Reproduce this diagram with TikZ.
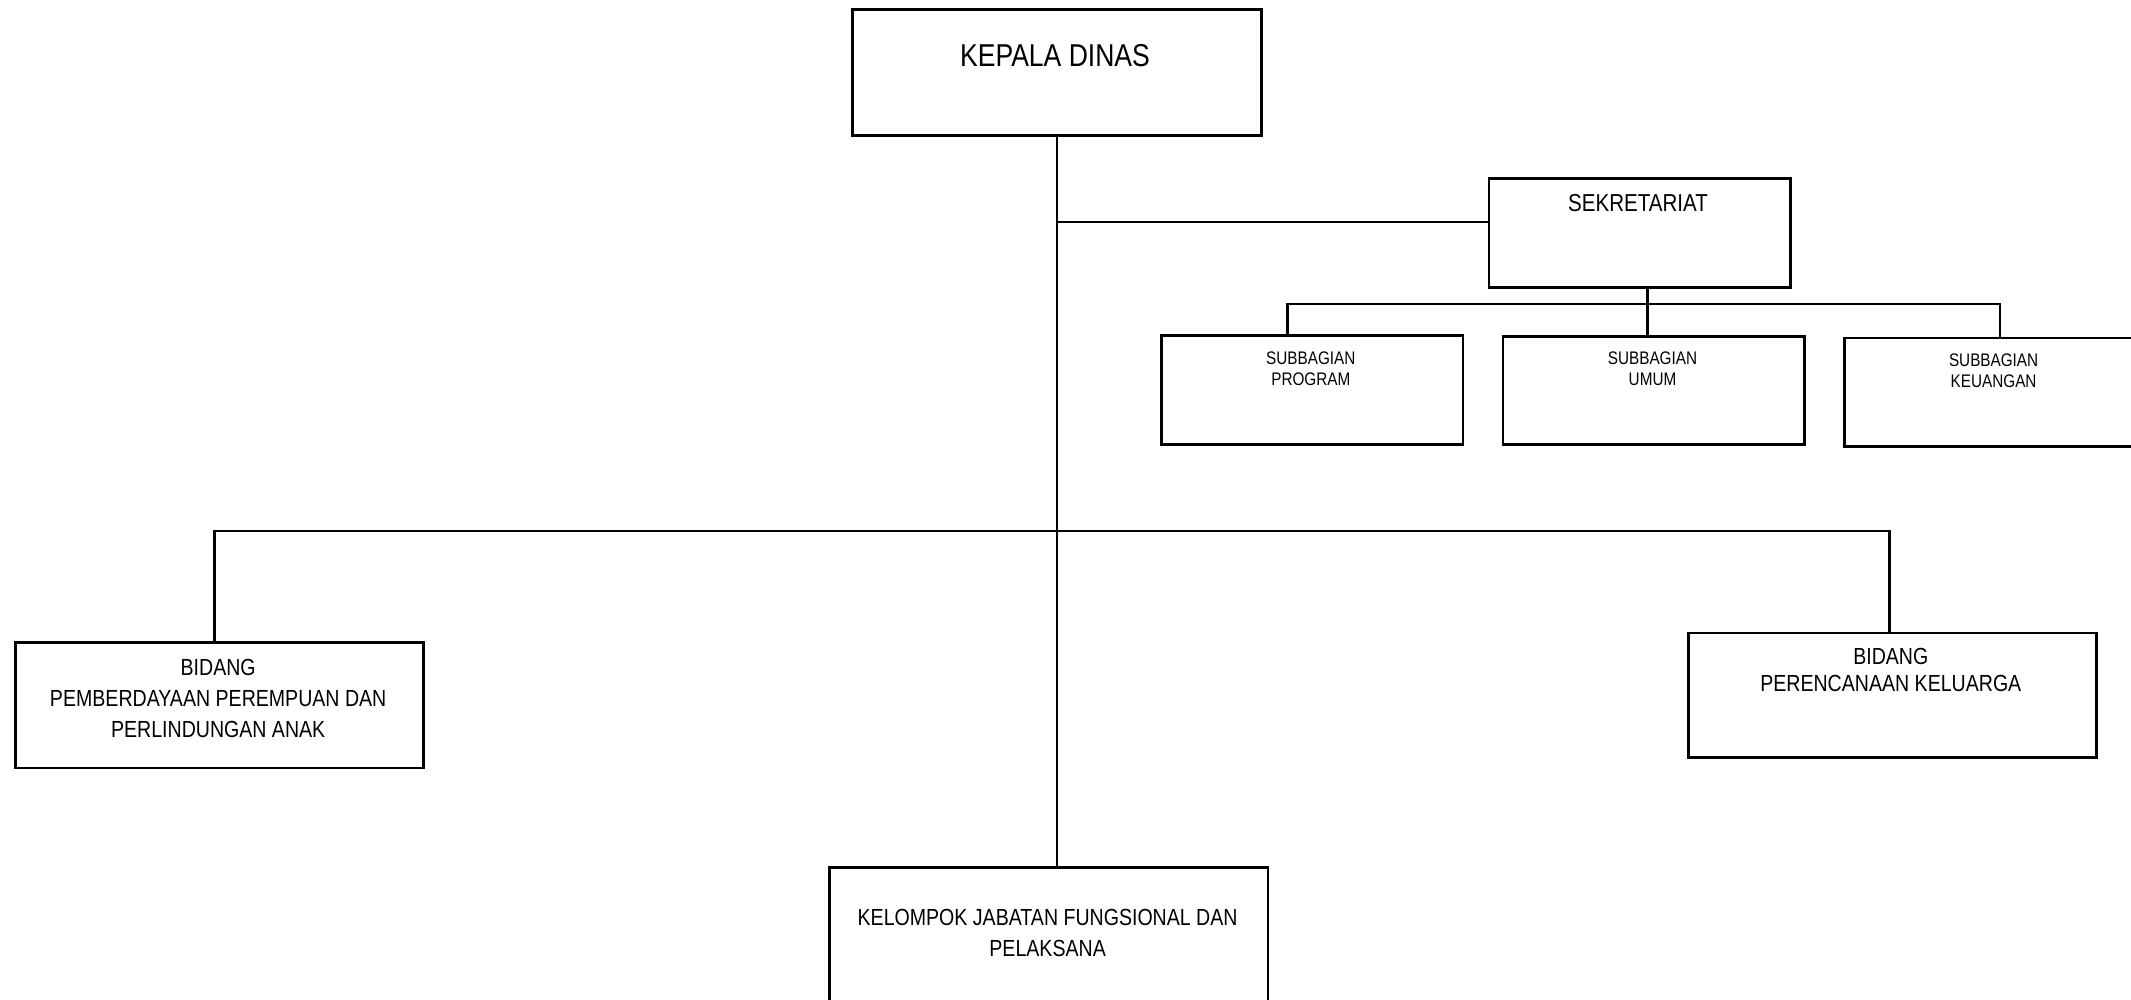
\documentclass[tikz,border=0pt]{standalone}
\usepackage{fontspec}
\setmainfont{Liberation Sans}[FakeStretch=0.84]
\begin{document}
\begin{tikzpicture}[x=0.5pt,y=-0.5pt,
  unit/.style={draw, line width=1.3pt, inner sep=0pt, anchor=north west},
  link/.style={line width=1.3pt},
  txt/.style={align=center, inner sep=0pt},
  big/.style={txt, font=\fontsize{15.8}{18}\selectfont},
  mid/.style={txt, font=\fontsize{12.25}{15}\selectfont},
  std/.style={txt, font=\fontsize{11.65}{15.5}\selectfont},
  tight/.style={txt, font=\fontsize{11.65}{13.65}\selectfont},
  small/.style={txt, font=\fontsize{9.1}{10.5}\selectfont}]
\useasboundingbox (0,0) rectangle (2131,1000);

% boxes
\node[unit, minimum width=204.5pt, minimum height=63pt]    (kd)   at (851,8.3) {};
\node[unit, minimum width=150.9pt, minimum height=54.35pt] (sek)  at (1487.5,177.3) {};
\node[unit, minimum width=150.85pt, minimum height=54.65pt] (sp)  at (1160,334) {};
\node[unit, minimum width=150.85pt, minimum height=54.15pt] (su)  at (1501.7,335) {};
\node[unit, minimum width=150.8pt, minimum height=54.3pt]  (sk)   at (1843.4,336.7) {};
\node[unit, minimum width=204.15pt, minimum height=62.85pt] (pppa) at (14,641) {};
\node[unit, minimum width=203.85pt, minimum height=62.15pt] (pk)  at (1687.3,631.7) {};
\node[unit, minimum width=219.2pt, minimum height=75pt]    (kel)  at (828.3,866) {};

% labels
\node[big]   (kdT)   at (1055,56)      {KEPALA DINAS};
\node[mid]   (sekT)  at (1638,202.7)   {SEKRETARIAT};
\node[small] (spT)   at (1310.8,368.5) {SUBBAGIAN\\PROGRAM};
\node[small] (suT)   at (1652.5,369)   {SUBBAGIAN\\UMUM};
\node[small] (skT)   at (1993.6,370.3) {SUBBAGIAN\\KEUANGAN};
\node[std]   (pppaT) at (218.2,698.3)  {BIDANG\\PEMBERDAYAAN PEREMPUAN DAN\\PERLINDUNGAN ANAK};
\node[tight] (pkT)   at (1890.8,670.3) {BIDANG\\PERENCANAAN KELUARGA};
\node[std]   (kelT)  at (1047.6,932.8) {KELOMPOK JABATAN FUNGSIONAL DAN\\PELAKSANA};

% junction points
\coordinate (tSek) at (1055.5,222);
\coordinate (sbM)  at (1647.4,304);
\coordinate (sbL)  at (1287.6,304);
\coordinate (sbR)  at (2000,304);
\coordinate (mbL)  at (214.3,531);
\coordinate (mbR)  at (1889.3,531);

% connectors
\draw[link] (kd.south) -- (kd.south |- kel.north);
\draw[link] (tSek) -- (tSek -| sek.west);
\draw[link] (sbM |- sek.south) -- (sbM |- su.north);
\draw[link] (sbL |- sp.north) -- (sbL) -- (sbR) -- (sbR |- sk.north);
\draw[link] (mbL |- pppa.north) -- (mbL) -- (mbR) -- (mbR |- pk.north);
\end{tikzpicture}
\end{document}
